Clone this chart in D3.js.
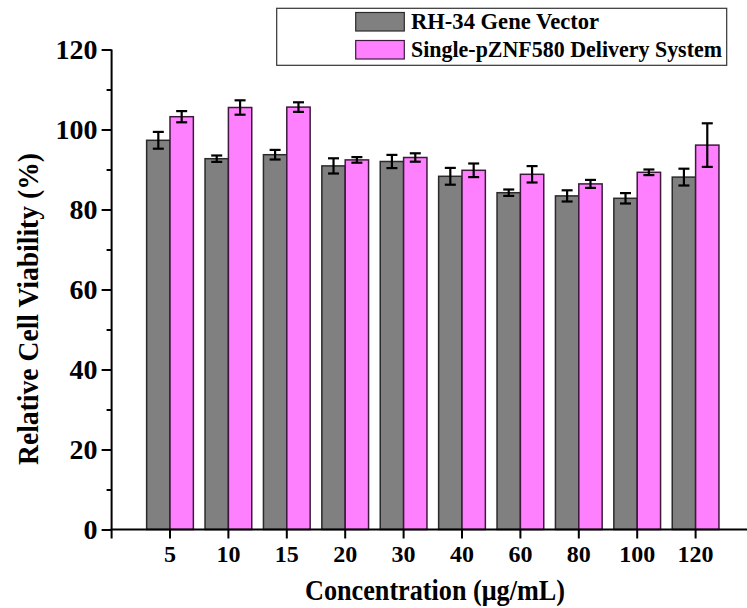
<!DOCTYPE html>
<html>
<head>
<meta charset="utf-8">
<script src="https://cdn.jsdelivr.net/npm/d3@7"></script>
<style>
  html, body { margin: 0; padding: 0; background: #fff; }
  svg { display: block; }
  text { font-family: "Liberation Serif", "Times New Roman", serif; font-weight: bold; fill: #000; }
</style>
</head>
<body>
<svg id="chart" width="747" height="608"></svg>
<script>
// ---- data ----
const categories = ["5", "10", "15", "20", "30", "40", "60", "80", "100", "120"];
const seriesNames = ["RH-34 Gene Vector", "Single-pZNF580 Delivery System"];
const rhValues   = [97.3, 92.7, 93.7, 90.9, 92.0, 88.3, 84.2, 83.4, 82.8, 88.1];
const rhErrors   = [2.1, 0.8, 1.2, 1.9, 1.65, 2.1, 0.8, 1.4, 1.3, 2.1];
const znfValues  = [103.2, 105.5, 105.6, 92.4, 93.0, 89.8, 88.8, 86.4, 89.3, 96.1];
const znfErrors  = [1.4, 1.8, 1.2, 0.7, 1.05, 1.7, 2.05, 1.0, 0.7, 5.45];
const yMajorTicks = [0, 20, 40, 60, 80, 100, 120];
const yMinorTicks = [10, 30, 50, 70, 90, 110];
const xTitle = "Concentration (\u03bcg/mL)";
const yTitle = "Relative Cell Viability (%)";

const fills = ["#808080", "#FF80FF"];
const strokes = ["#2a2a2a", "#3d1a3d"];
const serif = "'Liberation Serif', 'Times New Roman', serif";

const svg = d3.select("#chart");

const axisX0 = 111.6;
const step = 58.4;
const x = d3.scaleBand()
  .domain(categories)
  .range([axisX0 + step * 0.5, axisX0 + step * 10.5])
  .paddingInner(0.2)
  .paddingOuter(0.1);
const xSub = d3.scaleBand().domain(seriesNames).range([0, x.bandwidth()]);
const y = d3.scaleLinear().domain([0, 120]).range([529.5, 49.5]);

const data = categories.map((c, i) => ({
  cat: c,
  vals: [
    { s: seriesNames[0], v: rhValues[i], e: rhErrors[i], k: 0 },
    { s: seriesNames[1], v: znfValues[i], e: znfErrors[i], k: 1 }
  ]
}));

// bars
const groups = svg.append("g").selectAll("g").data(data).join("g")
  .attr("transform", d => `translate(${x(d.cat)},0)`);
groups.selectAll("rect").data(d => d.vals).join("rect")
  .attr("x", d => xSub(d.s))
  .attr("y", d => y(d.v))
  .attr("width", xSub.bandwidth())
  .attr("height", d => y(0) - y(d.v))
  .attr("fill", d => fills[d.k])
  .attr("stroke", d => strokes[d.k])
  .attr("stroke-width", 1.5);

// error bars
const eb = groups.selectAll("g.err").data(d => d.vals).join("g").attr("class", "err")
  .attr("stroke", "#000").attr("stroke-width", 2.2).attr("fill", "none");
const cx = d => xSub(d.s) + xSub.bandwidth() / 2;
eb.append("line").attr("x1", cx).attr("x2", cx)
  .attr("y1", d => y(d.v + d.e)).attr("y2", d => y(d.v - d.e));
eb.append("line").attr("x1", d => cx(d) - 5.5).attr("x2", d => cx(d) + 5.5)
  .attr("y1", d => y(d.v + d.e)).attr("y2", d => y(d.v + d.e));
eb.append("line").attr("x1", d => cx(d) - 5.5).attr("x2", d => cx(d) + 5.5)
  .attr("y1", d => y(d.v - d.e)).attr("y2", d => y(d.v - d.e));

// y axis (major)
const yAxis = svg.append("g").attr("transform", `translate(${axisX0},0)`)
  .call(d3.axisLeft(y).tickValues(yMajorTicks).tickSize(10).tickSizeOuter(0).tickPadding(4));
yAxis.attr("font-family", null).attr("font-size", null);
yAxis.select(".domain").remove();
yAxis.selectAll(".tick line").attr("stroke", "#000").attr("stroke-width", 2);
yAxis.selectAll(".tick text")
  .attr("dy", "0.33em")
  .style("font-size", "28px")
  .style("font-family", serif)
  .style("font-weight", "bold")
  .attr("fill", "#000");

// y axis (minor)
const yMinor = svg.append("g").attr("transform", `translate(${axisX0},0)`)
  .call(d3.axisLeft(y).tickValues(yMinorTicks).tickSize(5).tickFormat(""));
yMinor.select(".domain").remove();
yMinor.selectAll(".tick line").attr("stroke", "#000").attr("stroke-width", 2);

// y axis line (extends below x axis as the first x tick)
svg.append("line")
  .attr("x1", axisX0).attr("x2", axisX0)
  .attr("y1", y(120)).attr("y2", y(0) + 9)
  .attr("stroke", "#000").attr("stroke-width", 2);

// x axis
const xAxis = svg.append("g").attr("transform", `translate(0,${y(0)})`)
  .call(d3.axisBottom(x).tickSize(9).tickSizeOuter(0));
xAxis.attr("font-family", null).attr("font-size", null);
xAxis.select(".domain").remove();
xAxis.selectAll(".tick").attr("transform", d => `translate(${x(d) + x.bandwidth() / 2},0)`);
xAxis.selectAll(".tick line").attr("stroke", "#000").attr("stroke-width", 2);
xAxis.selectAll(".tick text")
  .attr("y", 32.5).attr("dy", null)
  .style("font-size", "24px")
  .style("font-family", serif)
  .style("font-weight", "bold")
  .attr("fill", "#000");
svg.append("line")
  .attr("x1", axisX0 - 1).attr("x2", 747)
  .attr("y1", y(0)).attr("y2", y(0))
  .attr("stroke", "#000").attr("stroke-width", 2);

// titles
svg.append("text")
  .attr("x", 435).attr("y", 600)
  .attr("text-anchor", "middle")
  .attr("textLength", 260).attr("lengthAdjust", "spacingAndGlyphs")
  .style("font-size", "29px")
  .text(xTitle);
svg.append("text")
  .attr("transform", "translate(38,309) rotate(-90)")
  .attr("text-anchor", "middle")
  .attr("textLength", 312).attr("lengthAdjust", "spacingAndGlyphs")
  .style("font-size", "29px")
  .text(yTitle);

// legend
const leg = svg.append("g");
leg.append("rect")
  .attr("x", 276.7).attr("y", 8.3).attr("width", 450).attr("height", 57)
  .attr("fill", "#fff").attr("stroke", "#333").attr("stroke-width", 1.2);
const legRows = seriesNames.map((s, i) => ({ s, k: i }));
const lr = leg.selectAll("g.row").data(legRows).join("g").attr("class", "row")
  .attr("transform", d => `translate(0,${d.k * 28})`);
lr.append("rect")
  .attr("x", 355.7).attr("y", 12.5).attr("width", 48.6).attr("height", 18.5)
  .attr("fill", d => fills[d.k]).attr("stroke", d => strokes[d.k]).attr("stroke-width", 1.2);
lr.append("text")
  .attr("x", 411).attr("y", 29)
  .attr("textLength", d => d.k === 0 ? 188 : 311).attr("lengthAdjust", "spacingAndGlyphs")
  .style("font-size", "23px")
  .text(d => d.s);
</script>
</body>
</html>
